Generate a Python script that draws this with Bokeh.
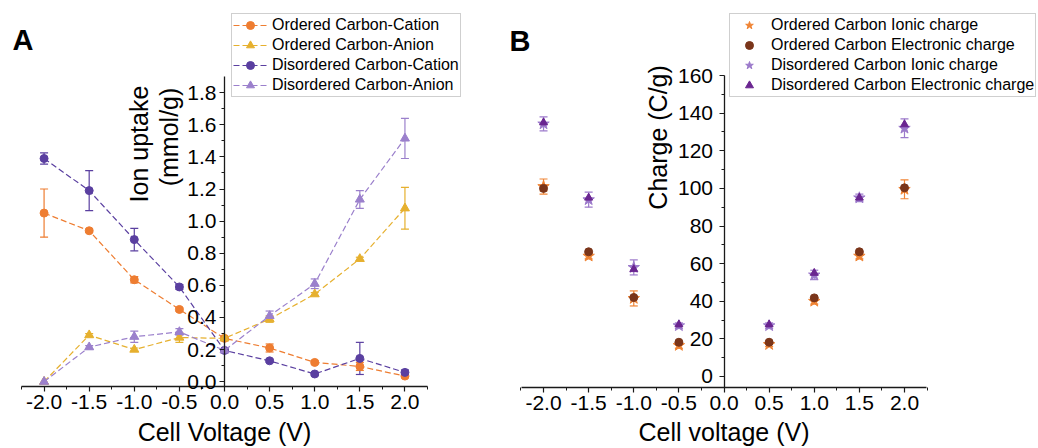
import math
from bokeh.plotting import figure
from bokeh.models import (ColumnDataSource, Whisker, TeeHead, Legend, LegendItem,
                          FixedTicker, PrintfTickFormatter, Label, Range1d)
from bokeh.layouts import row
from bokeh.embed import file_html
from bokeh.resources import INLINE

FONT = "Liberation Sans"

# ---------------- Panel A data ----------------
voltage_a = [-2.0, -1.5, -1.0, -0.5, 0.0, 0.5, 1.0, 1.5, 2.0]
ordered_cation = [1.05, 0.94, 0.635, 0.45, 0.27, 0.21, 0.12, 0.095, 0.035]
ordered_cation_err = [0.15, 0.01, 0.02, 0.01, 0.01, 0.025, 0.01, 0.025, 0.01]
ordered_anion = [0.0, 0.29, 0.20, 0.275, 0.27, 0.39, 0.545, 0.765, 1.08]
ordered_anion_err = [0.0, 0.01, 0.01, 0.03, 0.01, 0.02, 0.01, 0.01, 0.13]
disordered_cation = [1.39, 1.19, 0.885, 0.59, 0.195, 0.13, 0.048, 0.145, 0.058]
disordered_cation_err = [0.035, 0.125, 0.07, 0.015, 0.01, 0.01, 0.01, 0.10, 0.015]
disordered_anion = [0.0, 0.215, 0.28, 0.31, 0.195, 0.41, 0.61, 1.135, 1.515]
disordered_anion_err = [0.0, 0.01, 0.035, 0.02, 0.01, 0.03, 0.03, 0.055, 0.125]

# ---------------- Panel B data ----------------
voltage_b = [-2.0, -1.5, -1.0, -0.5, 0.5, 1.0, 1.5, 2.0]
ordered_ionic = [101, 64, 41.5, 16.5, 17, 40, 64, 99.5]
ordered_ionic_err = [4, 1.5, 4, 1.5, 1, 1.5, 1.5, 5]
ordered_electronic = [100, 66.3, 42, 18.2, 18.2, 41.8, 66.3, 100.3]
disordered_ionic = [134.3, 94, 58, 27, 27, 54, 95, 132]
disordered_ionic_err = [3.7, 4, 4, 1.5, 1.5, 2.5, 2, 5]
disordered_electronic = [135, 95, 57, 27.6, 27.6, 55, 95, 134]

# ticks
x_ticks = [-2.0, -1.5, -1.0, -0.5, 0.0, 0.5, 1.0, 1.5, 2.0]
x_minor = [-2.25, -1.75, -1.25, -0.75, -0.25, 0.25, 0.75, 1.25, 1.75, 2.25]
ya_ticks = [0.0, 0.2, 0.4, 0.6, 0.8, 1.0, 1.2, 1.4, 1.6, 1.8]
ya_minor = [0.1, 0.3, 0.5, 0.7, 0.9, 1.1, 1.3, 1.5, 1.7]
yb_ticks = [0, 20, 40, 60, 80, 100, 120, 140, 160]
yb_minor = [10, 30, 50, 70, 90, 110, 130, 150]

ORANGE = "#EE7D31"
YELLOW = "#E6B02E"
DPURPLE = "#5A3FA0"
LPURPLE = "#9B80CC"
BROWN = "#7A351A"
VPURPLE = "#6A2590"
STAR_O = "#F08434"
STAR_P = "#9C7ACB"


def style(p, xt, xm, yt, ym, yfmt, ystand, xbounds, ybounds):
    p.xgrid.visible = False
    p.ygrid.visible = False
    p.outline_line_color = None
    p.yaxis.fixed_location = 0
    p.xaxis.fixed_location = ybounds[0]
    p.xaxis.bounds = xbounds
    p.yaxis.bounds = ybounds
    p.xaxis.ticker = FixedTicker(ticks=xt, minor_ticks=xm)
    p.yaxis.ticker = FixedTicker(ticks=yt, minor_ticks=ym)
    p.xaxis.formatter = PrintfTickFormatter(format="%.1f")
    p.yaxis.formatter = PrintfTickFormatter(format=yfmt)
    for ax in (p.xaxis[0], p.yaxis[0]):
        ax.axis_line_color = "#1a1a1a"
        ax.axis_line_width = 1.3
        ax.major_tick_line_color = "#1a1a1a"
        ax.minor_tick_line_color = "#1a1a1a"
        ax.major_tick_line_width = 1.2
        ax.minor_tick_line_width = 1.0
        ax.major_tick_in = 0
        ax.major_tick_out = 5
        ax.minor_tick_in = 0
        ax.minor_tick_out = 3
        ax.major_label_text_font = FONT
        ax.major_label_text_font_size = "21px"
        ax.major_label_text_color = "black"
    p.xaxis.major_label_standoff = 3
    p.yaxis.major_label_standoff = ystand


def add_errors(p, xs, ys, errs, color, cap=8):
    pts = [(x, y - e, y + e) for x, y, e in zip(xs, ys, errs) if e > 0]
    src = ColumnDataSource(dict(x=[a for a, _, _ in pts],
                                lo=[b for _, b, _ in pts],
                                hi=[c for _, _, c in pts]))
    w = Whisker(base="x", lower="lo", upper="hi", source=src, dimension="height",
                line_color=color, line_width=1.2,
                upper_head=TeeHead(size=cap, line_color=color, line_width=1.2),
                lower_head=TeeHead(size=cap, line_color=color, line_width=1.2))
    p.add_layout(w)


def add_text(p, x, y, text, size, angle=0.0, align="left", baseline="alphabetic", bold=False):
    p.add_layout(Label(x=x, y=y, text=text, angle=angle, text_align=align,
                       text_baseline=baseline, text_font=FONT, text_font_size=size,
                       text_font_style="bold" if bold else "normal", text_color="black"))


def make_legend(items, loc, gw, standoff):
    return Legend(items=items, location=loc, border_line_color="#a0a0a0",
                  border_line_width=1, background_fill_color="white",
                  background_fill_alpha=1.0, padding=1, spacing=0, margin=0,
                  label_standoff=standoff, glyph_width=gw, glyph_height=20, label_height=20,
                  label_text_font=FONT, label_text_font_size="16px",
                  label_text_color="black")


def make_fig(width, xr, yr):
    return figure(width=width, height=448, output_backend="svg", toolbar_location=None,
                  x_range=Range1d(*xr), y_range=Range1d(*yr), min_border=0,
                  min_border_left=0, min_border_right=0, min_border_top=0,
                  min_border_bottom=0)


# ---------------- Panel A ----------------
# frame = whole canvas; axes are placed inside with fixed locations and bounds
pA = make_fig(474, (-2.483, 2.771), (-0.416, 2.374))
style(pA, x_ticks, x_minor, ya_ticks, ya_minor, "%.1f", 3, (-2.25, 2.25), (-0.03, 1.9))

series_a = [
    ("Ordered Carbon-Cation", ordered_cation, ordered_cation_err, ORANGE, "circle", 8),
    ("Ordered Carbon-Anion", ordered_anion, ordered_anion_err, YELLOW, "triangle", 9),
    ("Disordered Carbon-Cation", disordered_cation, disordered_cation_err, DPURPLE, "circle", 8),
    ("Disordered Carbon-Anion", disordered_anion, disordered_anion_err, LPURPLE, "triangle", 9),
]
items_a = []
for label, ys, errs, col, mk, sz in series_a:
    add_errors(pA, voltage_a, ys, errs, col, cap=8)
    r1 = pA.line(voltage_a, ys, line_color=col, line_width=1.2, line_dash="6 3")
    r2 = pA.scatter(voltage_a, ys, marker=mk, size=sz, fill_color=col, line_color=col)
    items_a.append(LegendItem(label=label, renderers=[r1, r2]))
pA.add_layout(make_legend(items_a, (231, 351), 34, 5))

add_text(pA, -2.35, 2.130, "A", "29px", bold=True)
add_text(pA, -0.953, 1.480, "Ion uptake", "25px", angle=math.pi / 2, align="center")
add_text(pA, -0.61, 1.524, "(mmol/g)", "25px", angle=math.pi / 2, align="center")
add_text(pA, 0.0, -0.3163, "Cell Voltage (V)", "25px", align="center")

# ---------------- Panel B ----------------
pB = make_fig(564, (-2.765, 3.485), (-38.28, 199.9))
style(pB, x_ticks, x_minor, yb_ticks, yb_minor, "%d", 6, (-2.244, 2.244), (-5.85, 160))

add_errors(pB, voltage_b, ordered_ionic, ordered_ionic_err, STAR_O, cap=8)
add_errors(pB, voltage_b, disordered_ionic, disordered_ionic_err, STAR_P, cap=8)
rb1 = pB.scatter(voltage_b, ordered_ionic, marker="star", size=12, fill_color=STAR_O, line_color=STAR_O)
rb2 = pB.scatter(voltage_b, ordered_electronic, marker="circle", size=8, fill_color=BROWN, line_color=BROWN)
rb3 = pB.scatter(voltage_b, disordered_ionic, marker="star", size=12, fill_color=STAR_P, line_color=STAR_P)
rb4 = pB.scatter(voltage_b, disordered_electronic, marker="triangle", size=8, fill_color=VPURPLE, line_color=VPURPLE)
items_b = [
    LegendItem(label="Ordered Carbon Ionic charge", renderers=[rb1]),
    LegendItem(label="Ordered Carbon Electronic charge", renderers=[rb2]),
    LegendItem(label="Disordered Carbon Ionic charge", renderers=[rb3]),
    LegendItem(label="Disordered Carbon Electronic charge", renderers=[rb4]),
]
pB.add_layout(make_legend(items_b, (255, 351), 36, 4))

add_text(pB, -2.377, 178.6, "B", "29px", bold=True)
add_text(pB, -0.726, 127.1, "Charge (C/g)", "25px", angle=math.pi / 2, align="center")
add_text(pB, 0.0, -29.77, "Cell voltage (V)", "25px", align="center")

layout = row(pA, pB)
open("out.html", "w").write(file_html(layout, INLINE))
